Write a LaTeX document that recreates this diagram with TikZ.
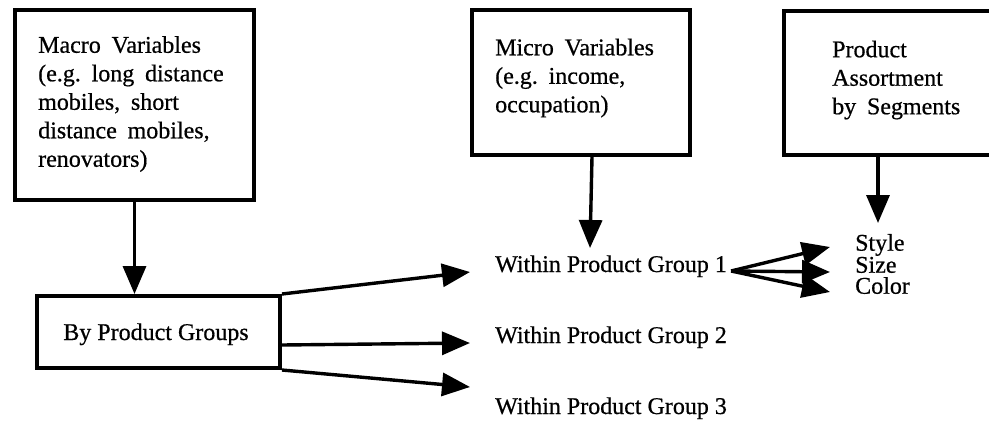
\documentclass[tikz,border=0pt]{standalone}
\usepackage{fontspec}
\setmainfont{Liberation Serif}[FakeBold=0.6]
\newfontfamily\inkserif{Liberation Serif}[FakeBold=0.6]
\usetikzlibrary{arrows.meta}
\newcommand\labfont{\inkserif\fontsize{24}{28.5}\selectfont}
\newcommand\widespaces{\frenchspacing\spaceskip=0.45em plus 0.1em\relax}
\begin{document}
\begin{tikzpicture}[x=1pt,y=-1pt,
  frame/.style={draw, line width=4pt, rectangle, inner sep=0pt, anchor=north west},
  boxtext/.style={font=\labfont\widespaces, align=left, inner sep=0pt, anchor=west},
  plain/.style={font=\labfont, inner sep=0pt, anchor=base west},
  arr/.style={line width=3.4pt, -{Triangle[length=28pt,width=23pt]}},
]
\useasboundingbox (0,0) rectangle (989,421);
\clip (0,0) rectangle (989,421);
\fill[white] (0,0) rectangle (989,421);

% boxes (the right one runs past the right border)
\node[frame, minimum width=239pt, minimum height=190pt] (macro) at (13,8) {};
\node[frame, minimum width=243pt, minimum height=72pt] (byprod) at (35,294) {};
\node[frame, minimum width=218pt, minimum height=145pt] (micro) at (470,8) {};
\node[frame, minimum width=220pt, minimum height=144pt] (prod) at (782,9) {};

% box texts
\node[boxtext] (macrotext) at (38,104) {Macro Variables\\(e.g. long distance\\mobiles, short\\distance mobiles,\\renovators)};
\node[boxtext] (microtext) at (495,78) {Micro Variables\\(e.g. income,\\occupation)};
\node[boxtext] (prodtext) at (832,80) {Product\\Assortment\\by Segments};
\node[font=\labfont, inner sep=0pt, anchor=base] (byprodtext) at (156,340) {By Product Groups};

% free labels
\node[plain] (wpg1) at (495,272) {Within Product Group 1};
\node[plain] (wpg2) at (495,343) {Within Product Group 2};
\node[plain] (wpg3) at (495,414) {Within Product Group 3};
\node[font=\inkserif\fontsize{24}{21}\selectfont, align=left, inner sep=0pt, anchor=west]
  (attrs) at (855,264) {Style\\Size\\Color};

% connectors
\draw[arr] (macro.south) -- (macro.south |- byprod.north);
\draw[arr] (byprod.north east) -- ([xshift=-25pt]wpg1.base west);
\draw[arr] ([yshift=-13pt]byprod.east) -- ([xshift=-25pt]wpg2.base west);
\draw[arr] (byprod.south east) -- ([xshift=-25pt,yshift=27pt]wpg3.base west);
\draw[arr] ([xshift=11pt]micro.south) -- ([xshift=95pt,yshift=24pt]wpg1.base west);
\draw[arr] ([xshift=96pt]prod.south west) -- ([xshift=23pt,yshift=41pt]attrs.west);
\draw[arr] ([xshift=4pt,yshift=1pt]wpg1.base east) -- ([xshift=-25pt,yshift=17pt]attrs.west);
\draw[arr] ([xshift=4pt,yshift=1pt]wpg1.base east) -- ([xshift=-25pt,yshift=-8pt]attrs.west);
\draw[arr] ([xshift=4pt,yshift=1pt]wpg1.base east) -- ([xshift=-25pt,yshift=-28pt]attrs.west);
\end{tikzpicture}
\end{document}
